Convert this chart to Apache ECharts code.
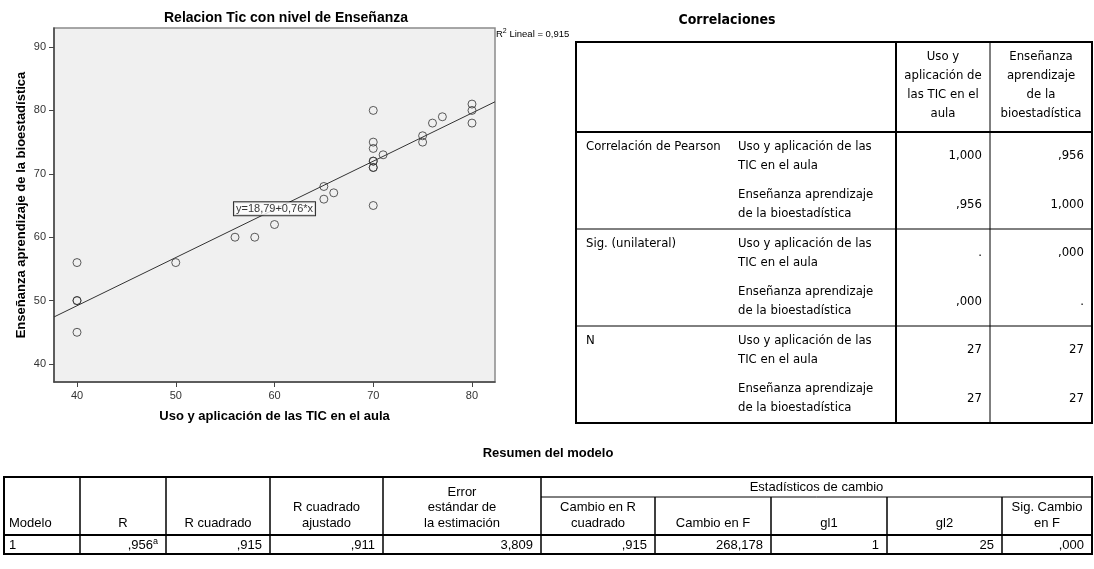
<!DOCTYPE html>
<html><head><meta charset="utf-8">
<script src="https://cdn.jsdelivr.net/npm/echarts@6/dist/echarts.min.js"></script>
<style>html,body{margin:0;padding:0;background:#fff}#c{width:1094px;height:569px}</style>
</head><body><div id="c"></div>
<script>
// ---- scatter data ----
const chartTitle = 'Relacion Tic con nivel de Enseñanza';
const xName = 'Uso y aplicación de las TIC en el aula';
const yName = 'Enseñanza aprendizaje de la bioestadística';
const xVals = [40,40,40,40,50,56,58,60,65,65,66,70,70,70,70,70,70,70,70,71,75,75,76,77,80,80,80];
const yVals = [56,50,50,45,56,60,60,62,68,66,67,80,75,74,72,72,71,71,65,73,76,75,78,79,81,80,78];
const intercept = 18.79;
const slope = 0.76;
const equationText = 'y=18,79+0,76*x';
const equationAnchor = [60, 64.5];
const r2Text = '0,915';
const xTicks = [40,50,60,70,80];
const yTicks = [40,50,60,70,80,90];
const xRange = [37.67, 82.33];
const yRange = [37.16, 93.0];

// ---- correlations table ----
const corrTitle = 'Correlaciones';
const corrColHeaders = ['Uso y\naplicación de\nlas TIC en el\naula', 'Enseñanza\naprendizaje\nde la\nbioestadística'];
const corrGroups = ['Correlación de Pearson', 'Sig. (unilateral)', 'N'];
const corrVars = ['Uso y aplicación de las\nTIC en el aula', 'Enseñanza aprendizaje\nde la bioestadística'];
const corrValues = [['1,000', ',956'], [',956', '1,000'], ['.', ',000'], [',000', '.'], ['27', '27'], ['27', '27']];

// ---- model summary table ----
const sumTitle = 'Resumen del modelo';
const sumHeaders = ['Modelo', 'R', 'R cuadrado', 'R cuadrado\najustado', 'Error\nestándar de\nla estimación'];
const changeGroup = 'Estadísticos de cambio';
const changeHeaders = ['Cambio en R\ncuadrado', 'Cambio en F', 'gl1', 'gl2', 'Sig. Cambio\nen F'];
const sumRow = ['1', ',956', ',915', ',911', '3,809', ',915', '268,178', '1', '25', ',000'];
const sumNote = 'a';

// ---- drawing ----
const SANS = '"Liberation Sans", Arial, sans-serif';
const NARROW = '"Liberation Sans Narrow", "Arial Narrow", "DejaVu Sans Condensed", sans-serif';
const G = [];
function line(x1, y1, x2, y2, w, c) {
  G.push({type: 'line', silent: true, shape: {x1, y1, x2, y2}, style: {stroke: c || '#000', lineWidth: w || 1}});
}
function text(str, x, y, o) {
  G.push({type: 'text', silent: true, x, y, style: Object.assign({
    text: str, fill: '#000', fontSize: 14, fontFamily: SANS, align: 'left', verticalAlign: 'middle'
  }, o || {})});
}

// chart texts
text(chartTitle, 286, 18, {fontSize: 14, fontWeight: 'bold', align: 'center'});
G.push({type: 'text', silent: true, x: 496, y: 34, style: {
  text: '{n|R}{s|2}{n| Lineal = ' + r2Text + '}', align: 'left', verticalAlign: 'middle',
  rich: {n: {fontSize: 9.5, fontFamily: SANS, fill: '#000'}, s: {fontSize: 7, fontFamily: SANS, fill: '#000', verticalAlign: 'top', padding: [0, 0, 5, 0]}}
}});

// correlations table
(function () {
  const L = 576, R = 1092, T = 42, HB = 132, B = 423;
  const cV = 896, cM = 990, cT = 738;
  const fs = 13;
  const blockH = (B - HB) / corrGroups.length, subH = blockH / 2;
  text(corrTitle, 727, 20, {fontFamily: NARROW, fontWeight: 'bold', fontSize: 14, align: 'center'});
  const colCenters = [(cV + cM) / 2, (cM + R) / 2];
  corrColHeaders.forEach((h, i) => text(h, colCenters[i], 85, {fontFamily: NARROW, fontSize: fs, align: 'center', lineHeight: 19}));
  corrGroups.forEach((g, gi) => {
    const bt = HB + gi * blockH;
    text(g, 586, bt + 14.5, {fontFamily: NARROW, fontSize: fs});
    for (let s = 0; s < 2; s++) {
      const st = bt + s * subH;
      const cy = st + 24;
      text(corrVars[s], cT, cy, {fontFamily: NARROW, fontSize: fs, lineHeight: 19});
      const vals = corrValues[gi * 2 + s];
      text(vals[0], cM - 8, cy, {fontFamily: NARROW, fontSize: fs, align: 'right'});
      text(vals[1], R - 8, cy, {fontFamily: NARROW, fontSize: fs, align: 'right'});
    }
    if (gi > 0) line(L, bt, R, bt, 1);
  });
  line(L, HB, R, HB, 2);
  line(cV, T, cV, B, 2);
  line(cM, T, cM, B, 1);
  G.push({type: 'rect', silent: true, shape: {x: L, y: T, width: R - L, height: B - T}, style: {fill: null, stroke: '#000', lineWidth: 2}});
})();

// model summary table
(function () {
  const cols = [4, 80, 166, 270, 383, 541, 655, 771, 887, 1002, 1092];
  const T = 477, SL = 497, HB = 535, B = 554;
  text(sumTitle, 548, 453, {fontSize: 13, fontWeight: 'bold', align: 'center'});
  text(changeGroup, (cols[5] + cols[10]) / 2, 487.5, {fontSize: 13, align: 'center'});
  const heads = sumHeaders.concat(changeHeaders);
  heads.forEach((h, i) => {
    if (i === 0) text(h, cols[0] + 5, 531, {fontSize: 13, verticalAlign: 'bottom', lineHeight: 15.5});
    else text(h, (cols[i] + cols[i + 1]) / 2, 531, {fontSize: 13, align: 'center', verticalAlign: 'bottom', lineHeight: 15.5});
  });
  sumRow.forEach((v, i) => {
    if (i === 0) text(v, cols[0] + 5, 545, {fontSize: 13});
    else if (i === 1) G.push({type: 'text', silent: true, x: cols[2] - 8, y: 545, style: {
      text: '{v|' + v + '}{s|' + sumNote + '}', align: 'right', verticalAlign: 'middle',
      rich: {v: {fontSize: 13, fontFamily: SANS, fill: '#000'}, s: {fontSize: 9, fontFamily: SANS, fill: '#000', verticalAlign: 'top', padding: [0, 0, 6, 0]}}
    }});
    else text(v, cols[i + 1] - 8, 545, {fontSize: 13, align: 'right'});
  });
  for (let i = 1; i < cols.length - 1; i++) line(cols[i], i >= 6 ? SL : T, cols[i], B, 1.5);
  line(cols[5], SL, cols[10], SL, 1);
  line(cols[0], HB, cols[10], HB, 2);
  G.push({type: 'rect', silent: true, shape: {x: cols[0], y: T, width: cols[10] - cols[0], height: B - T}, style: {fill: null, stroke: '#000', lineWidth: 2}});
})();

const points = xVals.map((x, i) => [x, yVals[i]]);
const fitLine = [xRange[0], xRange[1]].map(x => [x, intercept + slope * x]);

const axisCommon = {
  type: 'value', nameLocation: 'middle',
  nameTextStyle: {fontSize: 13, fontWeight: 'bold', color: '#000', fontFamily: SANS},
  axisLine: {show: true, onZero: false, lineStyle: {color: '#444', width: 1.5}},
  splitLine: {show: false}
};
const chart = echarts.init(document.getElementById('c'), null, {renderer: 'canvas'});
chart.setOption({
  animation: false,
  backgroundColor: '#fff',
  grid: {left: 54, top: 28, width: 441, height: 354, show: true, backgroundColor: '#f0f0f0', borderColor: '#8a8a8a', borderWidth: 1.5},
  xAxis: Object.assign({}, axisCommon, {
    min: xRange[0], max: xRange[1], name: xName, nameGap: 28,
    axisTick: {show: true, customValues: xTicks, length: 5, lineStyle: {color: '#444'}},
    axisLabel: {customValues: xTicks, fontSize: 11, color: '#333', margin: 8, fontFamily: SANS}
  }),
  yAxis: Object.assign({}, axisCommon, {
    min: yRange[0], max: yRange[1], name: yName, nameGap: 26,
    axisTick: {show: true, customValues: yTicks, length: 5, lineStyle: {color: '#444'}},
    axisLabel: {customValues: yTicks, fontSize: 11, color: '#333', margin: 8, fontFamily: SANS}
  }),
  series: [
    {type: 'line', data: fitLine, symbol: 'none', silent: true, lineStyle: {color: '#333', width: 1}, z: 2},
    {type: 'scatter', data: points, symbol: 'circle', symbolSize: 8,
      itemStyle: {color: 'rgba(0,0,0,0)', borderColor: '#333', borderWidth: 1}, z: 3},
    {type: 'scatter', data: [equationAnchor], symbolSize: 0, itemStyle: {color: 'rgba(0,0,0,0)'}, silent: true, z: 4,
      label: {show: true, position: 'inside', formatter: equationText, fontSize: 11, color: '#000', fontFamily: SANS,
        backgroundColor: '#fff', borderColor: '#000', borderWidth: 1, padding: [1, 2]}}
  ],
  graphic: G
});
</script></body></html>
